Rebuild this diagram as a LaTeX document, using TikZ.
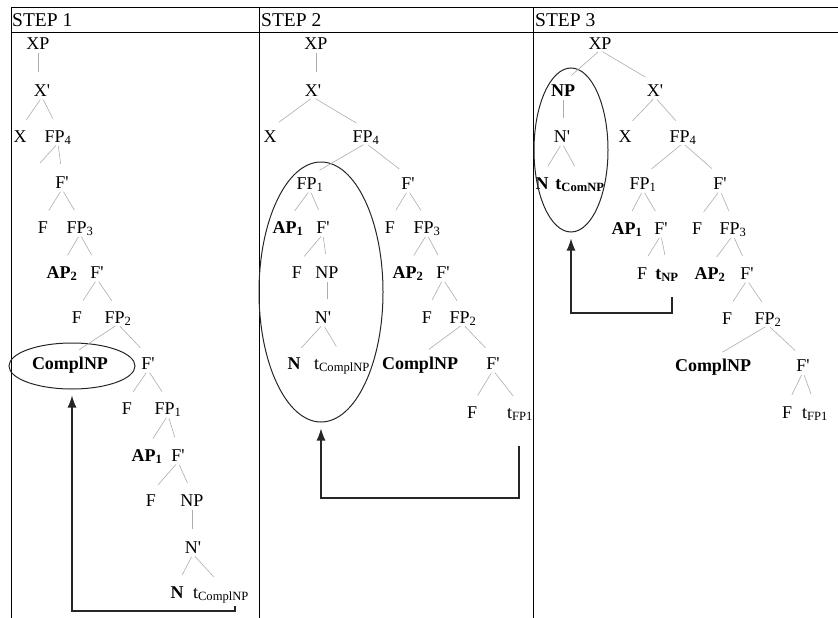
\documentclass[tikz,border=0pt]{standalone}
\usepackage{fontspec}
\setmainfont{Liberation Serif}
\usetikzlibrary{positioning,shapes.geometric,arrows.meta}
\newcommand{\lo}[1]{\textsubscript{#1}}
\newcommand{\pr}{\textquotesingle}

\begin{document}
\begin{tikzpicture}[x=1pt,y=-1pt,
		lbl/.style={inner sep=1pt, text height=12pt, text depth=0pt, font=\fontsize{18}{18}\selectfont},
		blbl/.style={lbl, font=\fontsize{18}{18}\selectfont\bfseries},
		hd/.style={anchor=base west, inner sep=0pt, font=\fontsize{19.5}{20}\selectfont},
		branch/.style={draw=gray!65, line width=0.6pt, shorten <=3pt, shorten >=11pt},
		ring/.style={draw=black!85, ellipse, line width=1pt, inner sep=0pt},
		move/.style={draw=black!85, line width=1.2pt, -{Latex[length=12pt,width=9pt]}, shorten >=6pt},
		rule/.style={line width=0.8pt}]
			      \useasboundingbox (0,0) rectangle (838,618);

			      \draw[rule] (11,7) -- (838,7) (11,32) -- (838,32);
			      \draw[rule] (11,7) -- (11,618) (259,7) -- (259,618) (533,7) -- (533,618);
			      \node[hd] (h1) at (12,27) {STEP 1};
			      \node[hd] (h2) at (261,27) {STEP 2};
			      \node[hd] (h3) at (535,27) {STEP 3};

			      % step 1
			      \node[lbl] (axp) at (38,43) {XP};
			      \node[lbl] (axb) at (42,90) {X\pr};
			      \node[lbl] (ax) at (20,136) {X};
			      \node[lbl] (afp4) at (58,136) {FP\lo{4}};
			      \coordinate (aspec) at (40,163);
			      \node[lbl] (afb1) at (62,182) {F\pr};
			      \node[lbl] (af1) at (43,227) {F};
			      \node[lbl] (afp3) at (80,227) {FP\lo{3}};
			      \node[blbl] (aap2) at (62,272) {AP\lo{2}};
			      \node[lbl] (afb2) at (97,272) {F\pr};
			      \node[lbl] (af2) at (77,317) {F};
			      \node[lbl] (afp2) at (118,317) {FP\lo{2}};
			      \node[blbl] (acompl) at (70,363) {ComplNP};
			      \node[lbl] (afb3) at (148,363) {F\pr};
			      \node[lbl] (af3) at (127,408) {F};
			      \node[lbl] (afp1) at (168,408) {FP\lo{1}};
			      \node[blbl] (aap1) at (147,455) {AP\lo{1}};
			      \node[lbl] (afb4) at (178,455) {F\pr};
			      \node[lbl] (af4) at (151,500) {F};
			      \node[lbl] (anp) at (192,500) {NP};
			      \node[lbl] (anb) at (193,547) {N\pr};
			      \node[blbl] (an) at (177,592) {N};
			      \node[lbl] (atr) at (221,592) {t\lo{ComplNP}};
			      \node[ring, minimum width=126pt, minimum height=46pt] (aring) at (72,366) {};

			      \draw[branch] (axp.south) -- (axp.south |- axb.north);
			      \draw[branch] (axb.south) -- (ax.north);
			      \draw[branch] (axb.south) -- (afp4.north);
			      \draw[branch, shorten >=0pt] (afp4.south) -- (aspec);
			      \draw[branch] (afp4.south) -- (afb1.north);
			      \draw[branch] (afb1.south) -- (af1.north);
			      \draw[branch] (afb1.south) -- (afp3.north);
			      \draw[branch] (afp3.south) -- (aap2.north);
			      \draw[branch] (afp3.south) -- (afb2.north);
			      \draw[branch] (afb2.south) -- (af2.north);
			      \draw[branch] (afb2.south) -- (afp2.north);
			      \draw[branch] (afp2.south) -- (acompl.north);
			      \draw[branch] (afp2.south) -- (afb3.north);
			      \draw[branch] (afb3.south) -- (af3.north);
			      \draw[branch] (afb3.south) -- (afp1.north);
			      \draw[branch] (afp1.south) -- (aap1.north);
			      \draw[branch] (afp1.south) -- (afb4.north);
			      \draw[branch] (afb4.south) -- (af4.north);
			      \draw[branch] (afb4.south) -- (anp.north);
			      \draw[branch] (anp.south) -- (anp.south |- anb.north);
			      \draw[branch] (anb.south) -- (an.north);
			      \draw[branch] (anb.south) -- (atr.north);

			      \coordinate (aend) at (235,606);
			      \coordinate (acorner) at (235,611);
			      \draw[move] (aend) -- (acorner) -| (aring.south);

			      % step 2
			      \node[lbl] (bxp) at (316,43) {XP};
			      \node[lbl] (bxb) at (313,90) {X\pr};
			      \node[lbl] (bx) at (270,136) {X};
			      \node[lbl] (bfp4) at (366,136) {FP\lo{4}};
			      \node[lbl] (bfp1) at (310,183) {FP\lo{1}};
			      \node[lbl] (bfb1) at (408,183) {F\pr};
			      \node[blbl] (bap1) at (288,227) {AP\lo{1}};
			      \node[lbl] (bfb2) at (323,227) {F\pr};
			      \node[lbl] (bf1) at (297,272) {F};
			      \node[lbl] (bnp) at (327,272) {NP};
			      \node[lbl] (bnb) at (323,317) {N\pr};
			      \node[blbl] (bn) at (294,363) {N};
			      \node[lbl] (btr) at (342,363) {t\lo{ComplNP}};
			      \node[lbl] (bf2) at (390,227) {F};
			      \node[lbl] (bfp3) at (427,227) {FP\lo{3}};
			      \node[blbl] (bap2) at (408,272) {AP\lo{2}};
			      \node[lbl] (bfb3) at (443,272) {F\pr};
			      \node[lbl] (bf3) at (427,317) {F};
			      \node[lbl] (bfp2) at (463,317) {FP\lo{2}};
			      \node[blbl] (bcompl) at (420,363) {ComplNP};
			      \node[lbl] (bfb4) at (493,363) {F\pr};
			      \node[lbl] (bf4) at (472,412) {F};
			      \node[lbl] (btfp) at (520,412) {t\lo{FP1}};
			      \node[ring, minimum width=124pt, minimum height=260pt] (bring) at (321,292) {};

			      \draw[branch] (bxp.south) -- (bxp.south |- bxb.north);
			      \draw[branch] (bxb.south) -- (bx.north);
			      \draw[branch] (bxb.south) -- (bfp4.north);
			      \draw[branch] (bfp4.south) -- (bfp1.north);
			      \draw[branch] (bfp4.south) -- (bfb1.north);
			      \draw[branch] (bfp1.south) -- (bap1.north);
			      \draw[branch] (bfp1.south) -- (bfb2.north);
			      \draw[branch] (bfb2.south) -- (bf1.north);
			      \draw[branch] (bfb2.south) -- (bnp.north);
			      \draw[branch] (bnp.south) -- (bnp.south |- bnb.north);
			      \draw[branch] (bnb.south) -- (bn.north);
			      \draw[branch] (bnb.south) -- (btr.north);
			      \draw[branch] (bfb1.south) -- (bf2.north);
			      \draw[branch] (bfb1.south) -- (bfp3.north);
			      \draw[branch] (bfp3.south) -- (bap2.north);
			      \draw[branch] (bfp3.south) -- (bfb3.north);
			      \draw[branch] (bfb3.south) -- (bf3.north);
			      \draw[branch] (bfb3.south) -- (bfp2.north);
			      \draw[branch] (bfp2.south) -- (bcompl.north);
			      \draw[branch] (bfp2.south) -- (bfb4.north);
			      \draw[branch] (bfb4.south) -- (bf4.north);
			      \draw[branch] (bfb4.south) -- (btfp.north);

			      \coordinate (bend) at (519,446);
			      \coordinate (bcorner) at (519,498);
			      \draw[move] (bend) -- (bcorner) -| (bring.south);

			      % step 3
			      \node[lbl] (cxp) at (600,43) {XP};
			      \node[blbl] (cnp) at (563,90) {NP};
			      \node[lbl] (cnb) at (562,136) {N\pr};
			      \node[blbl] (cn) at (542,183) {N};
			      \node[blbl] (ctr) at (580,183) {t\lo{ComNP}};
			      \node[lbl] (cxb) at (655,90) {X\pr};
			      \node[lbl] (cx) at (625,136) {X};
			      \node[lbl] (cfp4) at (683,136) {FP\lo{4}};
			      \node[lbl] (cfp1) at (643,183) {FP\lo{1}};
			      \node[lbl] (cfb1) at (720,183) {F\pr};
			      \node[blbl] (cap1) at (627,228) {AP\lo{1}};
			      \node[lbl] (cfb2) at (661,228) {F\pr};
			      \node[lbl] (cf1) at (642,273) {F};
			      \node[blbl] (ctnp) at (667,273) {t\lo{NP}};
			      \node[lbl] (cf2) at (697,228) {F};
			      \node[lbl] (cfp3) at (733,228) {FP\lo{3}};
			      \node[blbl] (cap2) at (710,273) {AP\lo{2}};
			      \node[lbl] (cfb3) at (747,273) {F\pr};
			      \node[lbl] (cf3) at (727,318) {F};
			      \node[lbl] (cfp2) at (768,318) {FP\lo{2}};
			      \node[blbl] (ccompl) at (713,365) {ComplNP};
			      \node[lbl] (cfb4) at (803,365) {F\pr};
			      \node[lbl] (cf4) at (787,412) {F};
			      \node[lbl] (ctfp) at (815,412) {t\lo{FP1}};
			      \node[ring, minimum width=74pt, minimum height=164pt] (cring) at (571,150) {};

			      \draw[branch] (cxp.south) -- (cnp.north);
			      \draw[branch] (cxp.south) -- (cxb.north);
			      \draw[branch] (cnp.south) -- (cnp.south |- cnb.north);
			      \draw[branch] (cnb.south) -- (cn.north);
			      \draw[branch] (cnb.south) -- (ctr.north);
			      \draw[branch] (cxb.south) -- (cx.north);
			      \draw[branch] (cxb.south) -- (cfp4.north);
			      \draw[branch] (cfp4.south) -- (cfp1.north);
			      \draw[branch] (cfp4.south) -- (cfb1.north);
			      \draw[branch] (cfp1.south) -- (cap1.north);
			      \draw[branch] (cfp1.south) -- (cfb2.north);
			      \draw[branch] (cfb2.south) -- (cf1.north);
			      \draw[branch] (cfb2.south) -- (ctnp.north);
			      \draw[branch] (cfb1.south) -- (cf2.north);
			      \draw[branch] (cfb1.south) -- (cfp3.north);
			      \draw[branch] (cfp3.south) -- (cap2.north);
			      \draw[branch] (cfp3.south) -- (cfb3.north);
			      \draw[branch] (cfb3.south) -- (cf3.north);
			      \draw[branch] (cfb3.south) -- (cfp2.north);
			      \draw[branch] (cfp2.south) -- (ccompl.north);
			      \draw[branch] (cfp2.south) -- (cfb4.north);
			      \draw[branch] (cfb4.south) -- (cf4.north);
			      \draw[branch] (cfb4.south) -- (ctfp.north);

			      \coordinate (cend) at (672,297);
			      \coordinate (ccorner) at (672,313);
			      \draw[move] (cend) -- (ccorner) -| (cring.south);
		      \end{tikzpicture}
\end{document}
